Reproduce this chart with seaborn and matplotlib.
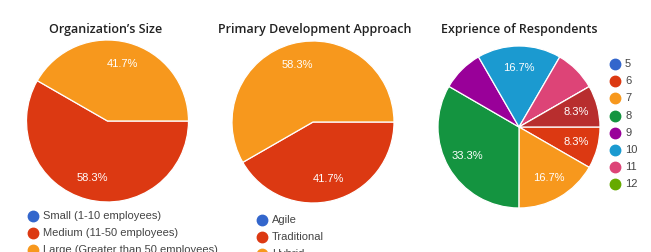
import matplotlib
matplotlib.use("Agg")
import matplotlib.pyplot as plt
from matplotlib.lines import Line2D
import numpy as np
import seaborn as sns

sns.set_theme(style="white")
plt.rcParams['font.family'] = ['Liberation Sans', 'DejaVu Sans']

# ---- data ----
size_labels = ["Small (1-10 employees)", "Medium (11-50 employees)", "Large (Greater than 50 employees)"]
size_values = [0.0, 58.3, 41.7]
size_show = [False, True, True]

approach_labels = ["Agile", "Traditional", "Hybrid"]
approach_values = [0.0, 41.7, 58.3]
approach_show = [False, True, True]

exp_labels = ["5", "6", "7", "8", "9", "10", "11", "12", "13"]
exp_values = [0.0, 8.3, 16.7, 33.3, 8.3, 16.7, 8.3, 0.0, 8.3]
exp_show = [False, True, True, True, False, True, False, False, True]
exp_legend_count = 8

titles = ["Organization\u2019s Size", "Primary Development Approach", "Exprience of Respondents"]

google = ["#3366CC", "#DC3912", "#F7981D", "#149440", "#990099",
          "#1B9AD0", "#DD4477", "#66AA00", "#B82E2E"]
palette = sns.color_palette(google)

W, H = 651, 252
fig = plt.figure(figsize=(W / 100, H / 100), dpi=100)
fig.patch.set_facecolor("white")


def px_axes(cx, cy, r):
    return fig.add_axes([(cx - r) / W, 1 - (cy + r) / H, 2 * r / W, 2 * r / H])


def draw_pie(ax, values, show, colors):
    wedges, _ = ax.pie(values, colors=colors, startangle=0, counterclock=False,
                       radius=1.0,
                       wedgeprops=dict(edgecolor="white", linewidth=0.9))
    for w, v, s in zip(wedges, values, show):
        if not s:
            continue
        mid = np.deg2rad((w.theta1 + w.theta2) / 2)
        ax.text(0.73 * np.cos(mid), 0.73 * np.sin(mid), f"{v:.1f}%",
                ha="center", va="center", color="white", fontsize=8)
    ax.set_xlim(-1, 1)
    ax.set_ylim(-1, 1)
    ax.set_aspect("equal")
    ax.axis("off")


def legend(labels, colors, x, y, dy):
    for i, (lab, c) in enumerate(zip(labels, colors)):
        yy = y + i * dy
        fig.add_artist(Line2D([(x) / W], [1 - yy / H], marker="o", markersize=7.5,
                              color=c, linestyle="none", transform=fig.transFigure))
        fig.text((x + 10) / W, 1 - yy / H, lab, ha="left", va="center",
                 fontsize=8, color="#444444")


title_kw = dict(ha="center", va="center", fontsize=9, color="#222222",
                family=["Open Sans", "DejaVu Sans"], weight="semibold")

# chart 1
ax1 = px_axes(107.5, 121, 81)
draw_pie(ax1, size_values, size_show, palette[:3])
fig.text(106 / W, 1 - 29 / H, titles[0], **title_kw)
legend(size_labels, palette[:3], 33, 216, 17)

# chart 2
ax2 = px_axes(313, 122, 81)
draw_pie(ax2, approach_values, approach_show, palette[:3])
fig.text(315 / W, 1 - 29 / H, titles[1], **title_kw)
legend(approach_labels, palette[:3], 262, 220, 17)

# chart 3
ax3 = px_axes(519, 127, 81)
draw_pie(ax3, exp_values, exp_show, palette[:len(exp_values)])
fig.text(519 / W, 1 - 29 / H, titles[2], **title_kw)
legend(exp_labels[:exp_legend_count], palette[:exp_legend_count], 615, 64, 17.2)

fig.savefig("out.png", dpi=100, facecolor="white")
